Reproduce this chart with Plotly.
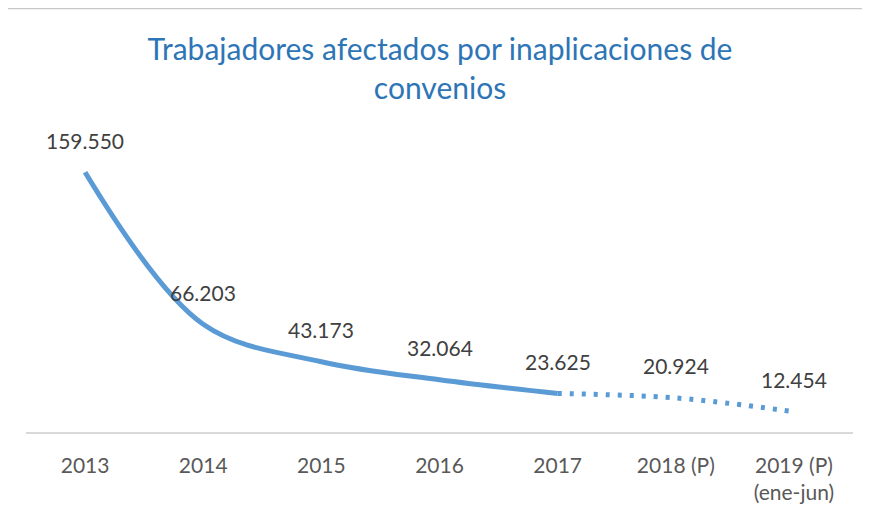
import plotly.graph_objects as go

categories = ["2013", "2014", "2015", "2016", "2017", "2018 (P)", "2019 (P)<br>(ene-jun)"]
values = [159550, 66203, 43173, 32064, 23625, 20924, 12454]
labels = ["159.550", "66.203", "43.173", "32.064", "23.625", "20.924", "12.454"]
n_solid = 5  # 2013-2017 real data, remaining provisional

pos = list(range(len(categories)))

LINE = "rgb(91,155,213)"
FONT = "Lato"

fig = go.Figure()
fig.add_trace(go.Scatter(
    x=pos[:n_solid], y=values[:n_solid], mode="lines",
    line=dict(color=LINE, width=5, shape="spline", smoothing=1),
    hoverinfo="skip", showlegend=False))
fig.add_trace(go.Scatter(
    x=pos[n_solid - 1:], y=values[n_solid - 1:], mode="lines",
    line=dict(color=LINE, width=5, dash="4px,8px", shape="spline", smoothing=1),
    hoverinfo="skip", showlegend=False))

for p, v, t in zip(pos, values, labels):
    fig.add_annotation(x=p, y=v, text=t, showarrow=False, yshift=32,
                       font=dict(family=FONT, size=21, color="#404040"))

fig.add_shape(type="line", xref="paper", yref="paper", x0=-0.05, x1=1.05,
              y0=1.4465, y1=1.4465, line=dict(color="#c8c8c8", width=2))

fig.update_layout(
    width=870, height=519,
    margin=dict(l=18, r=25, t=131, b=95),
    paper_bgcolor="white", plot_bgcolor="white",
    title=dict(text="Trabajadores afectados por inaplicaciones de<br>convenios",
               x=0.4966, xanchor="center", xref="container",
               y=0.90, yanchor="top", yref="container",
               font=dict(family=FONT, size=30, color="rgb(46,117,182)")),
    xaxis=dict(tickmode="array", tickvals=pos, ticktext=categories,
               range=[-0.5, len(pos) - 0.5],
               showline=True, linecolor="#d9d9d9", linewidth=1.5,
               showgrid=False, zeroline=False, ticks="", ticklabelstandoff=14,
               tickfont=dict(family=FONT, size=21, color="#595959")),
    yaxis=dict(range=[0, 180000], visible=False, showgrid=False),
)

fig.write_html("out.html")
